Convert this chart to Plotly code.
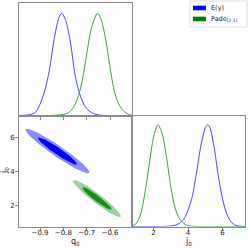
import numpy as np
import plotly.graph_objects as go

# ---------------- data ----------------
series_names = ["E(y)", "Pade<sub>(2,1)</sub>"]
axis_titles = ["q<sub>0</sub>", "j<sub>0</sub>"]

# marginal densities of q0 (normalised to peak 1)
q0_blue_x = [-0.99, -0.96, -0.94, -0.92, -0.90, -0.88, -0.86, -0.84, -0.82, -0.807,
             -0.79, -0.77, -0.75, -0.73, -0.71, -0.69, -0.67, -0.65, -0.62, -0.50]
q0_blue_y = [0, 0.003, 0.01, 0.03, 0.11, 0.24, 0.44, 0.74, 0.95, 1.0,
             0.93, 0.72, 0.40, 0.21, 0.10, 0.045, 0.018, 0.006, 0.0, 0.0]
q0_green_x = [-0.99, -0.86, -0.80, -0.78, -0.76, -0.74, -0.72, -0.70, -0.68, -0.654,
              -0.64, -0.62, -0.60, -0.58, -0.56, -0.54, -0.52, -0.50]
q0_green_y = [0, 0, 0.01, 0.025, 0.07, 0.16, 0.33, 0.60, 0.85, 1.0,
              0.95, 0.76, 0.47, 0.22, 0.10, 0.04, 0.01, 0.0]

# marginal densities of j0 (normalised to peak 1)
j0_blue_x = [0.75, 2.5, 3.0, 3.25, 3.5, 3.75, 4.0, 4.25, 4.5, 4.75, 5.0, 5.13,
             5.25, 5.5, 5.75, 6.0, 6.25, 6.5, 6.75, 7.0, 7.3]
j0_blue_y = [0, 0, 0.005, 0.012, 0.03, 0.07, 0.16, 0.30, 0.54, 0.80, 0.97, 1.0,
             0.98, 0.79, 0.50, 0.27, 0.12, 0.045, 0.012, 0.003, 0]
j0_green_x = [0.75, 1.0, 1.25, 1.5, 1.75, 2.0, 2.25, 2.5, 2.75, 3.0, 3.25, 3.5,
              3.75, 4.0, 4.5, 5.0, 7.3]
j0_green_y = [0.005, 0.03, 0.12, 0.33, 0.61, 0.88, 1.0, 0.91, 0.68, 0.39, 0.18, 0.08,
              0.03, 0.01, 0, 0, 0]

# joint (q0, j0) contours: centre, sigmas, correlation
blue_center = [-0.825, 5.2]
blue_sigma = [0.055, 0.53]
blue_rho = -0.955
green_center = [-0.656, 2.4]
green_sigma = [0.041, 0.44]
green_rho = -0.95
contour_levels = [2.49, 1.52]  # 95% and 68% regions

q0_ticks = [-0.9, -0.8, -0.7, -0.6]
j0_ticks = [2, 4, 6]

# ---------------- styling ----------------
FONT = "DejaVu Sans"
BLUE_LINE = "rgb(70,70,255)"
GREEN_LINE = "rgb(60,160,60)"
BLUE_FILLS = ["rgba(0,0,255,0.45)", "rgba(0,0,240,1)"]
GREEN_FILLS = ["rgba(0,128,0,0.38)", "rgba(0,128,0,0.85)"]
AXC = "#8a8a8a"
TXT = "#222222"

Q0_RANGE = [-0.99, -0.506]
J0_RANGE = [0.75, 7.3]


def px_x(p):
    return p / 249.0


def px_y(p):
    return 1 - p / 249.0


def ellipse(center, sigma, rho, k):
    cov = np.array([[sigma[0] ** 2, rho * sigma[0] * sigma[1]],
                    [rho * sigma[0] * sigma[1], sigma[1] ** 2]])
    L = np.linalg.cholesky(cov)
    t = np.linspace(0, 2 * np.pi, 120)
    pts = L @ np.vstack([np.cos(t), np.sin(t)]) * k
    return center[0] + pts[0], center[1] + pts[1]


fig = go.Figure()

# top-left: q0 marginals
fig.add_trace(go.Scatter(x=q0_blue_x, y=q0_blue_y, mode="lines",
                         line=dict(color=BLUE_LINE, width=1, shape="spline", smoothing=0.8),
                         xaxis="x", yaxis="y", showlegend=False))
fig.add_trace(go.Scatter(x=q0_green_x, y=q0_green_y, mode="lines",
                         line=dict(color=GREEN_LINE, width=1, shape="spline", smoothing=0.8),
                         xaxis="x", yaxis="y", showlegend=False))

# bottom-left: joint contours
for center, sigma, rho, fills in [(blue_center, blue_sigma, blue_rho, BLUE_FILLS),
                                  (green_center, green_sigma, green_rho, GREEN_FILLS)]:
    for k, fc in zip(contour_levels, fills):
        ex, ey = ellipse(center, sigma, rho, k)
        fig.add_trace(go.Scatter(x=ex, y=ey, mode="lines", fill="toself",
                                 fillcolor=fc, line=dict(width=0),
                                 xaxis="x2", yaxis="y2", showlegend=False,
                                 hoverinfo="skip"))

# bottom-right: j0 marginals
fig.add_trace(go.Scatter(x=j0_blue_x, y=j0_blue_y, mode="lines",
                         line=dict(color=BLUE_LINE, width=1, shape="spline", smoothing=0.8),
                         xaxis="x3", yaxis="y3", showlegend=False))
fig.add_trace(go.Scatter(x=j0_green_x, y=j0_green_y, mode="lines",
                         line=dict(color=GREEN_LINE, width=1, shape="spline", smoothing=0.8),
                         xaxis="x3", yaxis="y3", showlegend=False))

L_, M_, R_ = px_x(19), px_x(132), px_x(245)
T_, MID_, B_ = px_y(3), px_y(115.5), px_y(226.5)

common = dict(showgrid=False, zeroline=False, linecolor=AXC, linewidth=1,
              mirror=True, showline=True, ticks="outside", ticklen=3,
              tickcolor=AXC, tickfont=dict(family=FONT, size=7, color=TXT))

fig.update_layout(
    width=249, height=249,
    margin=dict(l=0, r=0, t=0, b=0),
    paper_bgcolor="white", plot_bgcolor="white",
    font=dict(family=FONT, size=7, color=TXT),
    xaxis=dict(domain=[L_, M_], anchor="y", range=Q0_RANGE, tickvals=q0_ticks,
               showticklabels=False, **common),
    yaxis=dict(domain=[MID_, T_], anchor="x", range=[0, 1.1],
               showticklabels=False, **{**common, "ticks": ""}),
    xaxis2=dict(domain=[L_, M_], anchor="y2", range=Q0_RANGE, tickvals=q0_ticks,
                ticklabelstandoff=-4, **common),
    yaxis2=dict(domain=[B_, MID_], anchor="x2", range=J0_RANGE, tickvals=j0_ticks,
                ticklabelstandoff=-1, **common),
    xaxis3=dict(domain=[M_, R_], anchor="y3", range=J0_RANGE, tickvals=j0_ticks,
                ticklabelstandoff=-4, **common),
    yaxis3=dict(domain=[B_, MID_], anchor="x3", range=[0, 1.09],
                showticklabels=False, **{**common, "ticks": ""}),
)

# axis titles
fig.add_annotation(xref="paper", yref="paper", x=(L_ + M_) / 2, y=px_y(242),
                   text=axis_titles[0], showarrow=False, xanchor="center", yanchor="middle",
                   font=dict(family=FONT, size=8, color=TXT))
fig.add_annotation(xref="paper", yref="paper", x=(M_ + R_) / 2, y=px_y(242),
                   text=axis_titles[1], showarrow=False, xanchor="center", yanchor="middle",
                   font=dict(family=FONT, size=8, color=TXT))
fig.add_annotation(xref="paper", yref="paper", x=px_x(5), y=(B_ + MID_) / 2,
                   text=axis_titles[1], showarrow=False, textangle=-90,
                   xanchor="center", yanchor="middle",
                   font=dict(family=FONT, size=8, color=TXT))

# legend (drawn as a box with colour patches and text)
lx0, lx1, ly0, ly1 = px_x(190), px_x(247), px_y(27), px_y(1)
fig.add_shape(type="rect", xref="paper", yref="paper", x0=lx0, x1=lx1, y0=ly0, y1=ly1,
              line=dict(color="#dddddd", width=1), fillcolor="white")
for i, (name, col) in enumerate(zip(series_names, ["rgb(0,0,255)", "rgb(0,128,0)"])):
    yc = px_y(8 + 11 * i)
    fig.add_shape(type="rect", xref="paper", yref="paper",
                  x0=px_x(193), x1=px_x(206), y0=yc - 2.3 / 249, y1=yc + 2.3 / 249,
                  line=dict(width=0), fillcolor=col)
    fig.add_annotation(xref="paper", yref="paper", x=px_x(209), y=yc, text=name,
                       showarrow=False, xanchor="left", yanchor="middle",
                       font=dict(family=FONT, size=6.5, color=TXT))

fig.write_html("out.html", config={"displayModeBar": False},
               post_script="document.body.style.margin='0';"
                           "document.body.style.overflow='hidden';")
